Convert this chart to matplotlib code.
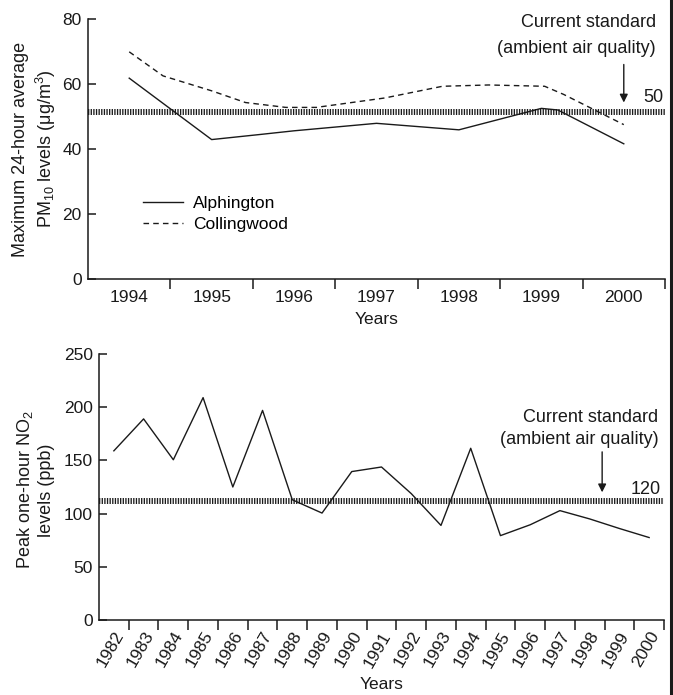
import matplotlib
matplotlib.use("Agg")
import matplotlib.pyplot as plt
from matplotlib.lines import Line2D
import matplotlib.transforms as mtransforms
import numpy as np

plt.rcParams['font.family'] = ['Liberation Sans', 'DejaVu Sans']
plt.rcParams['mathtext.fontset'] = 'custom'
plt.rcParams['mathtext.rm'] = 'Liberation Sans'
plt.rcParams['mathtext.it'] = 'Liberation Sans:italic'
plt.rcParams['font.size'] = 12.5
INK = '#1a1a1a'

# PM10 panel
pm_years = ['1994', '1995', '1996', '1997', '1998', '1999', '2000']
alph_x = [1994.0, 1995.0, 1995.6, 1996.0, 1997.0, 1998.0, 1999.0, 1999.2, 2000.0]
alph_y = [61.8, 42.9, 44.5, 45.6, 47.9, 45.9, 52.5, 52.0, 41.6]
coll_x = [1994.0, 1994.41, 1995.0, 1995.41, 1995.9, 1996.27, 1997.1, 1997.8,
          1998.36, 1999.04, 1999.27, 2000.0]
coll_y = [69.9, 62.5, 57.9, 54.3, 52.8, 52.8, 55.7, 59.3, 59.7, 59.3, 56.8, 47.5]
pm_standard = 51.5
pm_standard_label = '50'

# NO2 panel
no2_years = [str(y) for y in range(1982, 2001)]
no2_vals = [159, 189, 150.6, 209, 125, 197, 113, 100.5, 139.5, 143.8, 118.8,
            88.9, 161.4, 79.3, 89.5, 102.8, 95, 86, 77.5]
no2_standard = 112
no2_standard_label = '120'

fig = plt.figure(figsize=(6.73, 6.95), dpi=100)
ax1 = fig.add_axes([88/673, 1-279/695, 577/673, 260/695])
ax2 = fig.add_axes([99/673, 1-620/695, 565/673, 266/695])


def style_axis(ax, n):
    for s in ['top', 'right']:
        ax.spines[s].set_visible(False)
    for s in ['left', 'bottom']:
        ax.spines[s].set_linewidth(1.1)
        ax.spines[s].set_color(INK)
    ax.set_xlim(-0.5, n - 0.5)
    ax.set_xticks(np.arange(n))
    ax.set_xticks(np.arange(n) + 0.5, minor=True)
    ax.tick_params(axis='x', which='major', length=0, colors=INK)
    ax.tick_params(axis='x', which='minor', length=7.5, width=1.1,
                   direction='out', color=INK)
    ax.tick_params(axis='y', direction='in', length=5.5, width=1.1,
                   pad=4.5, colors=INK)


dotted = dict(color=INK, lw=4.3, ls=(0, (0.22, 0.22)), solid_capstyle='butt')

# ---- top panel
style_axis(ax1, len(pm_years))
ax1.set_ylim(0, 80)
ax1.set_yticks([0, 20, 40, 60, 80])
ax1.set_xticklabels(pm_years)
ax1.tick_params(axis='x', which='major', pad=8)
ax1.axhline(pm_standard, **dotted)
ax1.plot(np.array(alph_x) - 1994, alph_y, color=INK, lw=1.0, label='Alphington')
ax1.plot(np.array(coll_x) - 1994, coll_y, color=INK, lw=1.0, ls=(0, (4, 3)),
         label='Collingwood')
ax1.legend(loc='center left', bbox_to_anchor=(0.095, 0.25), frameon=False,
           borderpad=0, borderaxespad=0, handlelength=2.3, handletextpad=0.6,
           labelspacing=0.35, fontsize=12.5)
ax1.set_xlabel('Years', color=INK, labelpad=5)
ax1.text(6.39, 79, 'Current standard', ha='right', va='center', color=INK, fontsize=13)
ax1.text(6.39, 70.8, '(ambient air quality)', ha='right', va='center', color=INK,
         fontsize=13)
ax1.annotate('', xy=(6.0, 54.3), xytext=(6.0, 66),
             arrowprops=dict(arrowstyle='-|>', color=INK, lw=1.0,
                             mutation_scale=12, shrinkA=0, shrinkB=0))
ax1.text(6.36, 55.8, pm_standard_label, ha='center', va='center', color=INK, fontsize=13)
fig.text(35/673, 1-149/695, 'Maximum 24-hour average\nPM$_{10}$ levels (μg/m$^3$)',
         rotation=90, ha='center', va='center', color=INK, fontsize=13,
         linespacing=1.25)

# ---- bottom panel
style_axis(ax2, len(no2_years))
ax2.set_ylim(0, 250)
ax2.set_yticks([0, 50, 100, 150, 200, 250])
ax2.axhline(no2_standard, **dotted)
ax2.plot(np.arange(len(no2_vals)), no2_vals, color=INK, lw=1.0)
ax2.set_xticklabels(no2_years, rotation=60, ha='right', rotation_mode='anchor',
                    va='center')
ax2.tick_params(axis='x', which='major', pad=9)
offset = mtransforms.ScaledTranslation(6/100, 0, fig.dpi_scale_trans)
for lab in ax2.get_xticklabels():
    lab.set_transform(lab.get_transform() + offset)
ax2.set_xlabel('Years', color=INK, labelpad=5)
ax2.text(18.31, 190, 'Current standard', ha='right', va='center', color=INK,
         fontsize=13)
ax2.text(18.31, 169.5, '(ambient air quality)', ha='right', va='center', color=INK,
         fontsize=13)
ax2.annotate('', xy=(16.42, 120), xytext=(16.42, 158),
             arrowprops=dict(arrowstyle='-|>', color=INK, lw=1.0,
                             mutation_scale=12, shrinkA=0, shrinkB=0))
ax2.text(17.9, 123, no2_standard_label, ha='center', va='center', color=INK,
         fontsize=13)
fig.text(35/673, 1-490/695, 'Peak one-hour NO$_2$\nlevels (ppb)',
         rotation=90, ha='center', va='center', color=INK, fontsize=13,
         linespacing=1.25)

# page border on the right edge
fig.add_artist(Line2D([0.9975, 0.9975], [0, 1], color=INK, lw=2.2,
                      transform=fig.transFigure))

fig.savefig('out.png', dpi=100)
